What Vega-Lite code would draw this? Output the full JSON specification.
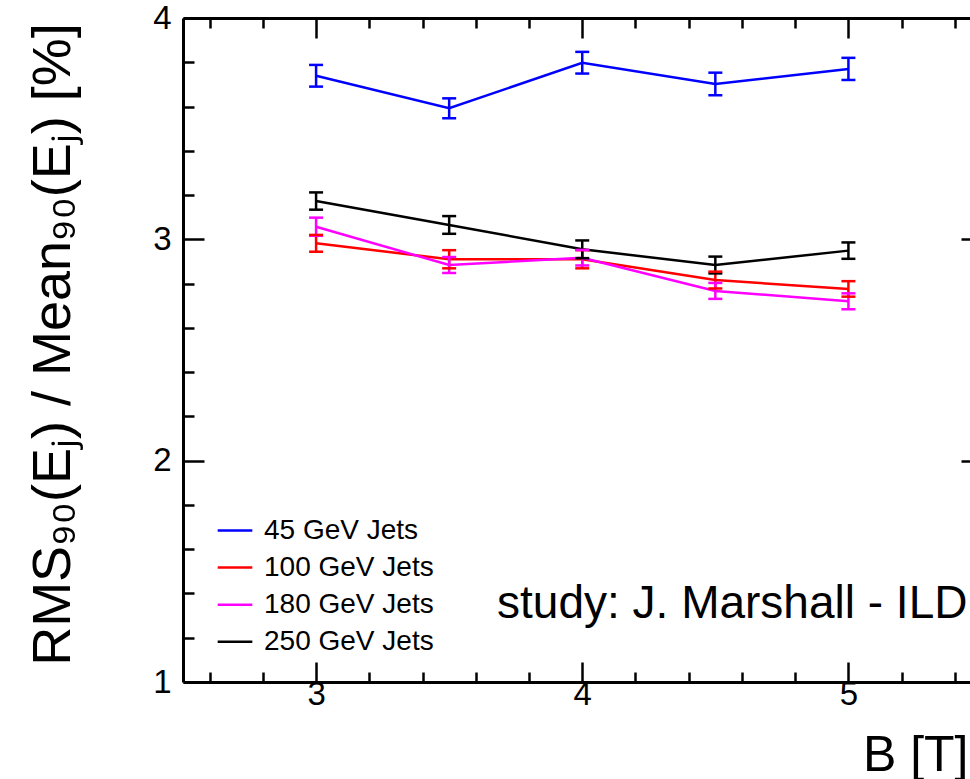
{
  "$schema": "https://vega.github.io/schema/vega-lite/v6.json",
  "width": 787,
  "height": 664,
  "autosize": {"type": "none"},
  "padding": {"left": 183, "top": 18, "right": 0, "bottom": 97},
  "background": "white",
  "config": {
    "view": {"stroke": null},
    "font": "Liberation Sans",
    "axis": {"grid": false, "domainColor": "black", "domainWidth": 3, "tickColor": "black", "tickWidth": 2.5, "labelColor": "black", "titleColor": "black", "labelFont": "Liberation Sans", "labelFontSize": 33, "titleFont": "Liberation Sans", "titleFontWeight": "normal", "labelOverlap": false, "labelBound": false, "labelFlush": false}
  },
  "datasets": {
    "pts": [
      {"B": 3, "jets": "45 GeV Jets", "v": 3.739, "lo": 3.690, "hi": 3.788},
      {"B": 3.5, "jets": "45 GeV Jets", "v": 3.592, "lo": 3.547, "hi": 3.637},
      {"B": 4, "jets": "45 GeV Jets", "v": 3.798, "lo": 3.749, "hi": 3.847},
      {"B": 4.5, "jets": "45 GeV Jets", "v": 3.702, "lo": 3.651, "hi": 3.753},
      {"B": 5, "jets": "45 GeV Jets", "v": 3.770, "lo": 3.720, "hi": 3.820},
      {"B": 3, "jets": "100 GeV Jets", "v": 2.982, "lo": 2.944, "hi": 3.020},
      {"B": 3.5, "jets": "100 GeV Jets", "v": 2.910, "lo": 2.869, "hi": 2.951},
      {"B": 4, "jets": "100 GeV Jets", "v": 2.910, "lo": 2.869, "hi": 2.951},
      {"B": 4.5, "jets": "100 GeV Jets", "v": 2.816, "lo": 2.778, "hi": 2.854},
      {"B": 5, "jets": "100 GeV Jets", "v": 2.776, "lo": 2.741, "hi": 2.811},
      {"B": 3, "jets": "180 GeV Jets", "v": 3.057, "lo": 3.016, "hi": 3.098},
      {"B": 3.5, "jets": "180 GeV Jets", "v": 2.884, "lo": 2.848, "hi": 2.920},
      {"B": 4, "jets": "180 GeV Jets", "v": 2.917, "lo": 2.882, "hi": 2.952},
      {"B": 4.5, "jets": "180 GeV Jets", "v": 2.767, "lo": 2.731, "hi": 2.803},
      {"B": 5, "jets": "180 GeV Jets", "v": 2.720, "lo": 2.684, "hi": 2.756},
      {"B": 3, "jets": "250 GeV Jets", "v": 3.173, "lo": 3.134, "hi": 3.212},
      {"B": 3.5, "jets": "250 GeV Jets", "v": 3.065, "lo": 3.025, "hi": 3.105},
      {"B": 4, "jets": "250 GeV Jets", "v": 2.955, "lo": 2.915, "hi": 2.995},
      {"B": 4.5, "jets": "250 GeV Jets", "v": 2.884, "lo": 2.846, "hi": 2.922},
      {"B": 5, "jets": "250 GeV Jets", "v": 2.949, "lo": 2.912, "hi": 2.986}
    ],
    "note": [
      {"B": 3.68, "v": 1.29, "t": "study: J. Marshall - ILD"}
    ]
  },
  "data": {"name": "pts"},
  "layer": [
    {
      "mark": {"type": "line", "strokeWidth": 2.5},
      "encoding": {
        "x": {
          "field": "B", "type": "quantitative",
          "scale": {"domain": [2.5, 5.4568], "nice": false, "zero": false},
          "axis": {
            "orient": "bottom",
            "values": [2.6, 2.8, 3, 3.2, 3.4, 3.6, 3.8, 4, 4.2, 4.4, 4.6, 4.8, 5, 5.2, 5.4],
            "tickSize": {"condition": {"test": "datum.value % 1 === 0", "value": -20}, "value": -10},
            "labelExpr": "datum.value % 1 === 0 ? '' + datum.value : ''",
            "labelFontSize": 33,
            "labelBaseline": "middle",
            "labelPadding": 32,
            "title": "B [T]",
            "titleFontSize": 50,
            "titleAlign": "right",
            "titleAnchor": null,
            "titleX": 785,
            "titleY": 88,
            "titleBaseline": "alphabetic"
          }
        },
        "y": {
          "field": "v", "type": "quantitative",
          "scale": {"domain": [1, 4], "nice": false, "zero": false},
          "axis": {
            "orient": "left",
            "values": [1, 1.2, 1.4, 1.6, 1.8, 2, 2.2, 2.4, 2.6, 2.8, 3, 3.2, 3.4, 3.6, 3.8, 4],
            "tickSize": {"condition": {"test": "datum.value % 1 === 0", "value": -21}, "value": -11},
            "labelExpr": "datum.value % 1 === 0 ? '' + datum.value : ''",
            "labelFontSize": 33,
            "labelPadding": 33,
            "labelBaseline": "middle",
            "title": "RMS₉₀(Eⱼ) / Mean₉₀(Eⱼ) [%]",
            "titleFontSize": 54,
            "titleAngle": -90,
            "titleAlign": "center",
            "titleAnchor": null,
            "titleBaseline": "alphabetic",
            "titleX": -114,
            "titleY": 326
          }
        },
        "stroke": {
          "field": "jets", "type": "nominal",
          "scale": {"domain": ["45 GeV Jets", "100 GeV Jets", "180 GeV Jets", "250 GeV Jets"], "range": ["#0000ff", "#ff0000", "#ff00ff", "#000000"]},
          "legend": {
            "orient": "none", "legendX": 33, "legendY": 493.5, "title": null,
            "symbolType": "stroke", "symbolSize": 1200, "symbolStrokeWidth": 2.5,
            "labelFontSize": 28, "labelOffset": 10, "rowPadding": 4.1, "padding": 0,
            "labelColor": "black", "labelFont": "Liberation Sans", "labelLimit": 400
          }
        }
      }
    },
    {
      "mark": {"type": "rule", "strokeWidth": 2.5},
      "encoding": {
        "x": {
          "field": "B", "type": "quantitative",
          "axis": {
            "orient": "top",
            "values": [2.6, 2.8, 3, 3.2, 3.4, 3.6, 3.8, 4, 4.2, 4.4, 4.6, 4.8, 5, 5.2, 5.4],
            "tickSize": {"condition": {"test": "datum.value % 1 === 0", "value": -20}, "value": -10},
            "labels": false, "title": null
          }
        },
        "y": {
          "field": "lo", "type": "quantitative",
          "axis": {
            "orient": "right", "offset": 12,
            "values": [1, 1.2, 1.4, 1.6, 1.8, 2, 2.2, 2.4, 2.6, 2.8, 3, 3.2, 3.4, 3.6, 3.8, 4],
            "tickSize": {"condition": {"test": "datum.value % 1 === 0", "value": -21}, "value": -11},
            "labels": false, "title": null
          }
        },
        "y2": {"field": "hi"},
        "stroke": {"field": "jets", "type": "nominal"}
      }
    },
    {
      "mark": {"type": "rule", "strokeWidth": 2.5, "xOffset": -7, "x2Offset": 7},
      "encoding": {
        "x": {"field": "B", "type": "quantitative", "axis": null},
        "x2": {"field": "B"},
        "y": {"field": "lo", "type": "quantitative", "axis": null},
        "stroke": {"field": "jets", "type": "nominal"}
      }
    },
    {
      "mark": {"type": "rule", "strokeWidth": 2.5, "xOffset": -7, "x2Offset": 7},
      "encoding": {
        "x": {"field": "B", "type": "quantitative", "axis": null},
        "x2": {"field": "B"},
        "y": {"field": "hi", "type": "quantitative", "axis": null},
        "stroke": {"field": "jets", "type": "nominal"}
      }
    },
    {
      "data": {"name": "note"},
      "mark": {"type": "text", "align": "left", "baseline": "alphabetic", "fontSize": 46, "font": "Liberation Sans", "color": "black"},
      "encoding": {
        "x": {"field": "B", "type": "quantitative", "axis": null},
        "y": {"field": "v", "type": "quantitative", "axis": null},
        "text": {"field": "t"}
      }
    }
  ],
  "resolve": {"axis": {"x": "independent", "y": "independent"}}
}
